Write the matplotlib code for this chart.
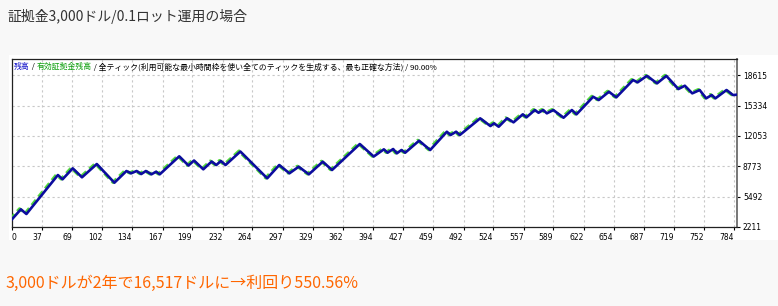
import matplotlib
matplotlib.use("Agg")
import matplotlib.pyplot as plt
from matplotlib.patches import Rectangle
from matplotlib.transforms import offset_copy

# ---- data ----
trade = [4, 14, 20, 54, 59, 70, 80, 96, 115, 128, 133, 139, 144, 149, 155, 160, 164,
         185, 195, 201, 211, 220, 225, 230, 235, 251, 280, 293, 304, 314, 325, 340, 350,
         380, 395, 406, 410, 416, 420, 425, 429, 444, 456, 474, 478, 484, 488, 510, 521,
         525, 530, 539, 546, 556, 560, 569, 573, 578, 582, 589, 600, 609, 614, 632, 638,
         649, 657, 675, 680, 690, 701, 711, 724, 731, 739, 747, 754, 760, 764, 776, 783, 787]
balance = [3000, 4124, 3616, 7832, 7367, 8556, 7584, 9021, 7000, 8265, 8016, 8265, 7940,
           8265, 7908, 8189, 7908, 9854, 8859, 9400, 8448, 9292, 8913, 9346, 8913, 10373,
           7475, 8913, 8016, 8729, 7908, 9270, 8373, 11183, 9832, 10610, 10243, 10643,
           10178, 10535, 10243, 11540, 10535, 12513, 12156, 12513, 12156, 13961, 13129,
           13421, 13053, 13961, 13529, 14394, 14069, 14859, 14567, 14859, 14502, 14859,
           14026, 14859, 14394, 16296, 15940, 16837, 16231, 18102, 17853, 18556, 17745,
           18556, 17129, 17486, 16664, 17021, 16123, 16480, 16123, 17021, 16480, 16517]
equity = balance

x_ticks = [37, 69, 102, 134, 167, 199, 232, 264, 297, 329, 362, 394, 427, 459, 492,
           524, 557, 589, 622, 654, 687, 719, 752, 784]
y_ticks = [2211, 5492, 8773, 12053, 15334, 18615]

title = "証拠金3,000ドル/0.1ロット運用の場合"
footer = "3,000ドルが2年で16,517ドルに→利回り550.56%"
header = [("残高", "#1010c8"), (" / ", "#000000"), ("有効証拠金残高", "#10a010"),
          (" / 全ティック(利用可能な最小時間枠を使い全てのティックを生成する、最も正確な方法) / 90.00%", "#000000")]

W, H = 778, 306
JP = ["Noto Sans CJK JP", "DejaVu Sans"]

fig = plt.figure(figsize=(W / 100, H / 100), dpi=100)
fig.patch.set_facecolor("#f8f8f8")

# white panel of the screenshot
panel = Rectangle((9 / W, 1 - 240 / H), 1, (240 - 55) / H,
                  transform=fig.transFigure, facecolor="white",
                  edgecolor="none", zorder=-5)
fig.add_artist(panel)

ax = fig.add_axes([11.6 / W, 1 - 227 / H, (736.7 - 11.6) / W, (227 - 59.3) / H])
ax.set_zorder(2)
ax.set_facecolor("white")
ax.set_xlim(4, 787)
ax.set_ylim(2211, 20345)

green_tr = offset_copy(ax.transData, fig=fig, x=-1.3, y=0.4, units="dots")
ax.plot(trade, equity, color="#52d83c", lw=2.4, linestyle=(0, (2.0, 1.2)),
        transform=green_tr, zorder=3)
ax.plot(trade, balance, color="#0c0c9e", lw=1.9, solid_joinstyle="round", zorder=4)

ax.set_xticks([4] + x_ticks)
ax.set_xticklabels(["0"] + [str(v) for v in x_ticks], fontsize=5.5, family="DejaVu Sans")
for i, lab in enumerate(ax.get_xticklabels()):
    lab.set_ha("left" if i == 0 else "right")
ax.set_yticks(y_ticks)
ax.set_yticklabels([str(v) for v in y_ticks], fontsize=5.5, family="DejaVu Sans")
ax.yaxis.tick_right()
ax.tick_params(axis="x", length=2, width=0.8, pad=2.5, colors="#000000")
ax.tick_params(axis="y", length=2.5, width=0.8, pad=2, colors="#000000")

ax.grid(True, color="#c8c8c8", linestyle=(0, (2, 2.5)), lw=0.8)
for s in ax.spines.values():
    s.set_color("#222222")
    s.set_linewidth(0.9)
ax.spines["right"].set_color("#777777")
ax.spines["right"].set_linewidth(1.4)

fig.text(8 / W, 1 - 16 / H, title, fontsize=10, color="#333333", family=JP, va="center")
fig.text(6 / W, 1 - 283 / H, footer, fontsize=11.5, color="#ff6600", family=JP, va="center")

fig.canvas.draw()
r = fig.canvas.get_renderer()
x = 14 / W
for s, c in header:
    t = fig.text(x, 1 - 67 / H, s, fontsize=5.65, color=c, family=JP, va="center", zorder=5)
    bb = t.get_window_extent(r)
    x = bb.x1 / W

fig.savefig("out.png", dpi=100, facecolor=fig.get_facecolor())
